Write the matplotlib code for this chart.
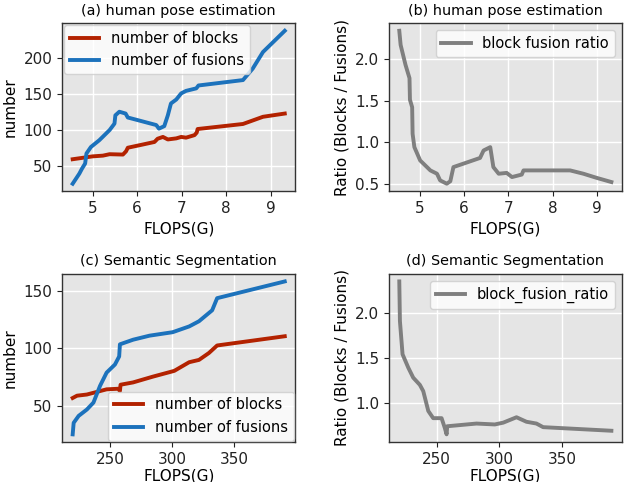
import numpy as np
import matplotlib
matplotlib.use("Agg")
import matplotlib.pyplot as plt

# human pose estimation
pose_blk_x = [4.55, 5.0, 5.23, 5.38, 5.68, 5.75, 5.79, 6.13, 6.39, 6.46, 6.58, 6.69, 6.88, 6.99, 7.10, 7.29, 7.34, 7.36, 8.38, 8.83, 9.32]
pose_blk_y = [59, 63, 64, 66, 65.5, 70, 75, 79.5, 83, 87.5, 90, 86.5, 88, 90, 89, 92.5, 96, 101, 108, 118, 122.5]
pose_fus_x = [4.55, 4.70, 4.76, 4.83, 4.86, 4.96, 5.15, 5.38, 5.49, 5.51, 5.60, 5.74, 5.79, 6.43, 6.49, 6.61, 6.69, 6.76, 6.88, 6.99, 7.10, 7.33, 7.38, 8.38, 8.60, 8.83, 9.32]
pose_fus_y = [25, 39, 46, 53, 67, 76, 85.5, 99.5, 108.5, 120, 125, 122.5, 117, 106.5, 101.5, 105, 120, 136.5, 142, 150.5, 154, 157.5, 161.5, 169, 185, 208, 237.5]
pose_ratio_x = [4.54, 4.57, 4.68, 4.77, 4.78, 4.83, 4.84, 4.88, 5.01, 5.24, 5.39, 5.46, 5.61, 5.69, 5.76, 6.36, 6.44, 6.59, 6.66, 6.78, 6.96, 7.08, 7.30, 7.34, 8.39, 8.69, 8.99, 9.32]
pose_ratio_y = [2.34, 2.17, 1.93, 1.77, 1.51, 1.42, 1.10, 0.94, 0.78, 0.66, 0.62, 0.54, 0.50, 0.53, 0.70, 0.81, 0.90, 0.94, 0.70, 0.62, 0.63, 0.58, 0.61, 0.66, 0.66, 0.62, 0.57, 0.52]

# semantic segmentation
seg_blk_x = [220.0, 223.5, 231.4, 236.7, 247.3, 256.6, 258.0, 258.5, 268.6, 284.5, 301.7, 313.7, 321.6, 329.6, 336.2, 390.6]
seg_blk_y = [57, 59, 60, 61.5, 64.5, 65, 63, 68.5, 70.5, 75.5, 80.5, 88, 90, 96, 102.5, 110.5]
seg_fus_x = [220.0, 220.8, 224.8, 231.4, 236.7, 242.0, 247.3, 254.0, 257.4, 258.0, 268.6, 281.8, 300.4, 313.7, 321.6, 332.2, 336.2, 390.6]
seg_fus_y = [25.5, 35.5, 41.5, 47, 53, 67.5, 79, 86, 93, 103.5, 107.5, 111, 114, 119, 123.5, 133, 143.5, 158]
seg_ratio_x = [220.3, 220.8, 222.9, 227.5, 231.4, 236.7, 239.4, 243.4, 247.3, 254.0, 256.6, 258.0, 258.5, 281.8, 296.4, 303.1, 313.7, 321.6, 329.6, 334.9, 389.3]
seg_ratio_y = [2.35, 1.91, 1.54, 1.39, 1.28, 1.20, 1.13, 0.91, 0.83, 0.83, 0.72, 0.65, 0.74, 0.77, 0.76, 0.78, 0.84, 0.79, 0.77, 0.73, 0.69]

red = '#b32200'
blue = '#1c72bc'
gray = '#7f7f7f'

plt.rcParams['font.family'] = 'DejaVu Sans'
plt.rcParams['font.size'] = 10.5
plt.rcParams['legend.fontsize'] = 10.5
plt.rcParams['axes.titlesize'] = 10.4

fig, axs = plt.subplots(2, 2, figsize=(6.27, 4.82), dpi=100)
fig.subplots_adjust(left=0.099, right=0.992, top=0.952, bottom=0.083, wspace=0.40, hspace=0.49)

def style(ax):
    ax.set_facecolor('#e5e5e5')
    ax.grid(True, color='white', lw=1)
    ax.set_axisbelow(True)
    for s in ax.spines.values():
        s.set_color('#333333')
        s.set_linewidth(1)
    ax.tick_params(colors='#222222', labelsize=11)

ax = axs[0, 0]
style(ax)
ax.plot(pose_blk_x, pose_blk_y, color=red, lw=2.8, label='number of blocks')
ax.plot(pose_fus_x, pose_fus_y, color=blue, lw=2.8, label='number of fusions')
ax.set_xticks([5, 6, 7, 8, 9])
ax.set_yticks([50, 100, 150, 200])
ax.set_title('(a) human pose estimation')
ax.set_xlabel('FLOPS(G)', fontsize=11)
ax.set_ylabel('number', fontsize=11)
ax.legend(loc='upper left', borderaxespad=0.15)

ax = axs[0, 1]
style(ax)
ax.plot(pose_ratio_x, pose_ratio_y, color=gray, lw=2.8, label='block fusion ratio')
ax.set_xticks([5, 6, 7, 8, 9])
ax.set_yticks([0.5, 1.0, 1.5, 2.0])
ax.set_title('(b) human pose estimation')
ax.set_xlabel('FLOPS(G)', fontsize=11)
ax.set_ylabel('Ratio (Blocks / Fusions)', fontsize=11)
ax.legend(loc='upper right')

ax = axs[1, 0]
style(ax)
ax.plot(seg_blk_x, seg_blk_y, color=red, lw=2.8, label='number of blocks')
ax.plot(seg_fus_x, seg_fus_y, color=blue, lw=2.8, label='number of fusions')
ax.set_xticks([250, 300, 350])
ax.set_yticks([50, 100, 150])
ax.set_title('(c) Semantic Segmentation')
ax.set_xlabel('FLOPS(G)', fontsize=11, labelpad=1)
ax.set_ylabel('number', fontsize=11)
ax.legend(loc='lower right', borderaxespad=0.1)

ax = axs[1, 1]
style(ax)
ax.plot(seg_ratio_x, seg_ratio_y, color=gray, lw=2.8, label='block_fusion_ratio')
ax.set_xticks([250, 300, 350])
ax.set_yticks([1.0, 1.5, 2.0])
ax.set_title('(d) Semantic Segmentation')
ax.set_xlabel('FLOPS(G)', fontsize=11, labelpad=1)
ax.set_ylabel('Ratio (Blocks / Fusions)', fontsize=11)
ax.legend(loc='upper right')

fig.savefig('out.png', dpi=100)
